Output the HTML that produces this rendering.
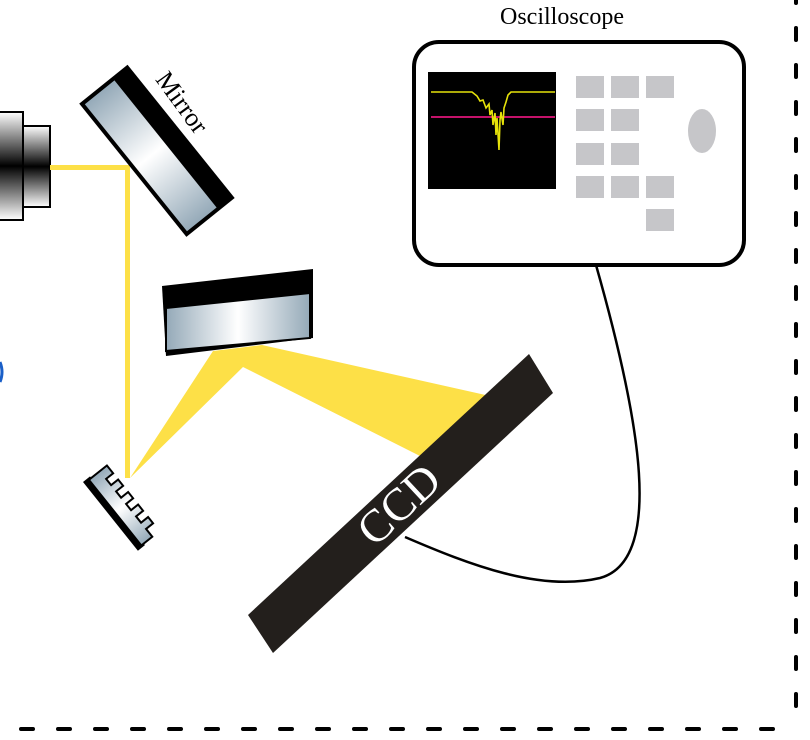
<!DOCTYPE html>
<html><head><meta charset="utf-8"><style>
html,body{margin:0;padding:0;background:#fff;width:810px;height:740px;overflow:hidden}
svg{display:block}
</style></head><body>
<svg width="810" height="740" viewBox="0 0 810 740">
<defs>
<linearGradient id="lampg" x1="0" y1="0" x2="0" y2="1">
<stop offset="0" stop-color="#fff"/><stop offset="0.5" stop-color="#000"/><stop offset="1" stop-color="#fff"/></linearGradient>
<linearGradient id="mg1" x1="0" y1="0" x2="1" y2="0">
<stop offset="0" stop-color="#94a9b8"/><stop offset="0.5" stop-color="#fff"/><stop offset="1" stop-color="#94a9b8"/></linearGradient>
<linearGradient id="mg2" x1="166" y1="0" x2="310" y2="0" gradientUnits="userSpaceOnUse">
<stop offset="0" stop-color="#94a9b8"/><stop offset="0.5" stop-color="#fff"/><stop offset="1" stop-color="#94a9b8"/></linearGradient>
<linearGradient id="gg" x1="0" y1="0" x2="1" y2="0">
<stop offset="0" stop-color="#94a9b8"/><stop offset="0.5" stop-color="#fff"/><stop offset="1" stop-color="#94a9b8"/></linearGradient>
</defs>

<g>
<rect x="-5" y="112" width="28" height="108" fill="url(#lampg)" stroke="#000" stroke-width="2"/>
<rect x="23" y="126" width="27" height="81" fill="url(#lampg)" stroke="#000" stroke-width="2"/>
</g>
<path d="M0,362 Q4,372 0,382" fill="none" stroke="#1a5fc8" stroke-width="3"/>

<g fill="#fde047">
<rect x="50" y="165" width="80" height="5"/>
<rect x="125" y="165" width="5" height="313"/>
<polygon points="213,351 262,345 490,396 420,456 243,367 130,478"/>
</g>

<g transform="translate(80,103) rotate(51.2)">
<rect x="0" y="-61" width="171" height="62" fill="#000"/>
<rect x="3" y="-42" width="165" height="40" fill="url(#mg1)" stroke="#000" stroke-width="2"/>
</g>
<text x="180" y="104" font-family="Liberation Serif, serif" font-size="26" transform="rotate(54 180 104)" text-anchor="middle" dominant-baseline="middle">Mirror</text>

<g>
<polygon points="162,286 313,269 313,338 166,356" fill="#000"/>
<polygon points="166,308 310,293 310,338 166,351" fill="url(#mg2)" stroke="#000" stroke-width="2"/>
</g>

<g transform="translate(83,482) rotate(51.4)">
<rect x="0" y="-9" width="88" height="9" fill="#000"/>
<path d="M2,-6 L2,-29 L12,-29 L12,-20 L20,-20 L20,-29 L28,-29 L28,-20 L36,-20 L36,-29 L44,-29 L44,-20 L52,-20 L52,-29 L60,-29 L60,-20 L68,-20 L68,-29 L76,-29 L76,-20 L86,-20 L86,-6 Z" fill="url(#gg)" stroke="#000" stroke-width="2"/>
</g>

<polygon points="529,354 553,393 273,653 248,615" fill="#231f1c"/>
<text x="402" y="508" font-family="Liberation Serif, serif" font-size="46" fill="#fff" transform="rotate(-43 402 508)" text-anchor="middle" dominant-baseline="middle">CCD</text>

<path d="M405,537 C470,565 540,592 600,578 C665,560 640,420 596,265" fill="none" stroke="#000" stroke-width="2.5"/>

<g>
<rect x="414" y="42" width="330" height="223" rx="25" fill="#fff" stroke="#000" stroke-width="4"/>
<rect x="428" y="72" width="128" height="117" fill="#000"/>
<line x1="431" y1="117" x2="555" y2="117" stroke="#e0157a" stroke-width="1.8"/>
<polyline points="431,92 472,92 477,96 480,101 483,100 486,108 489,104 490,115 492,110 493,125 495,113 496,135 497,118 499,150 500,120 501,112 503,125 504,108 506,102 508,95 511,92 555,92" fill="none" stroke="#e6e20a" stroke-width="1.6"/>
<g fill="#c6c6c9">
<rect x="576" y="76" width="28" height="22"/>
<rect x="611" y="76" width="28" height="22"/>
<rect x="646" y="76" width="28" height="22"/>
<rect x="576" y="109" width="28" height="22"/>
<rect x="611" y="109" width="28" height="22"/>
<rect x="576" y="143" width="28" height="22"/>
<rect x="611" y="143" width="28" height="22"/>
<rect x="576" y="176" width="28" height="22"/>
<rect x="611" y="176" width="28" height="22"/>
<rect x="646" y="176" width="28" height="22"/>
<rect x="646" y="209" width="28" height="22"/>
<ellipse cx="702" cy="131" rx="14" ry="22"/>
</g>
</g>
<text x="562" y="24" font-family="Liberation Serif, serif" font-size="24" text-anchor="middle">Oscilloscope</text>

<g stroke="#000" stroke-width="4" stroke-linecap="round" fill="none" stroke-dasharray="12 25">
<line x1="796" y1="-10" x2="796" y2="729" stroke-dashoffset="-1"/>
<line x1="-5" y1="729" x2="796" y2="729" stroke-dashoffset="11"/>
</g>
</svg>
</body></html>
